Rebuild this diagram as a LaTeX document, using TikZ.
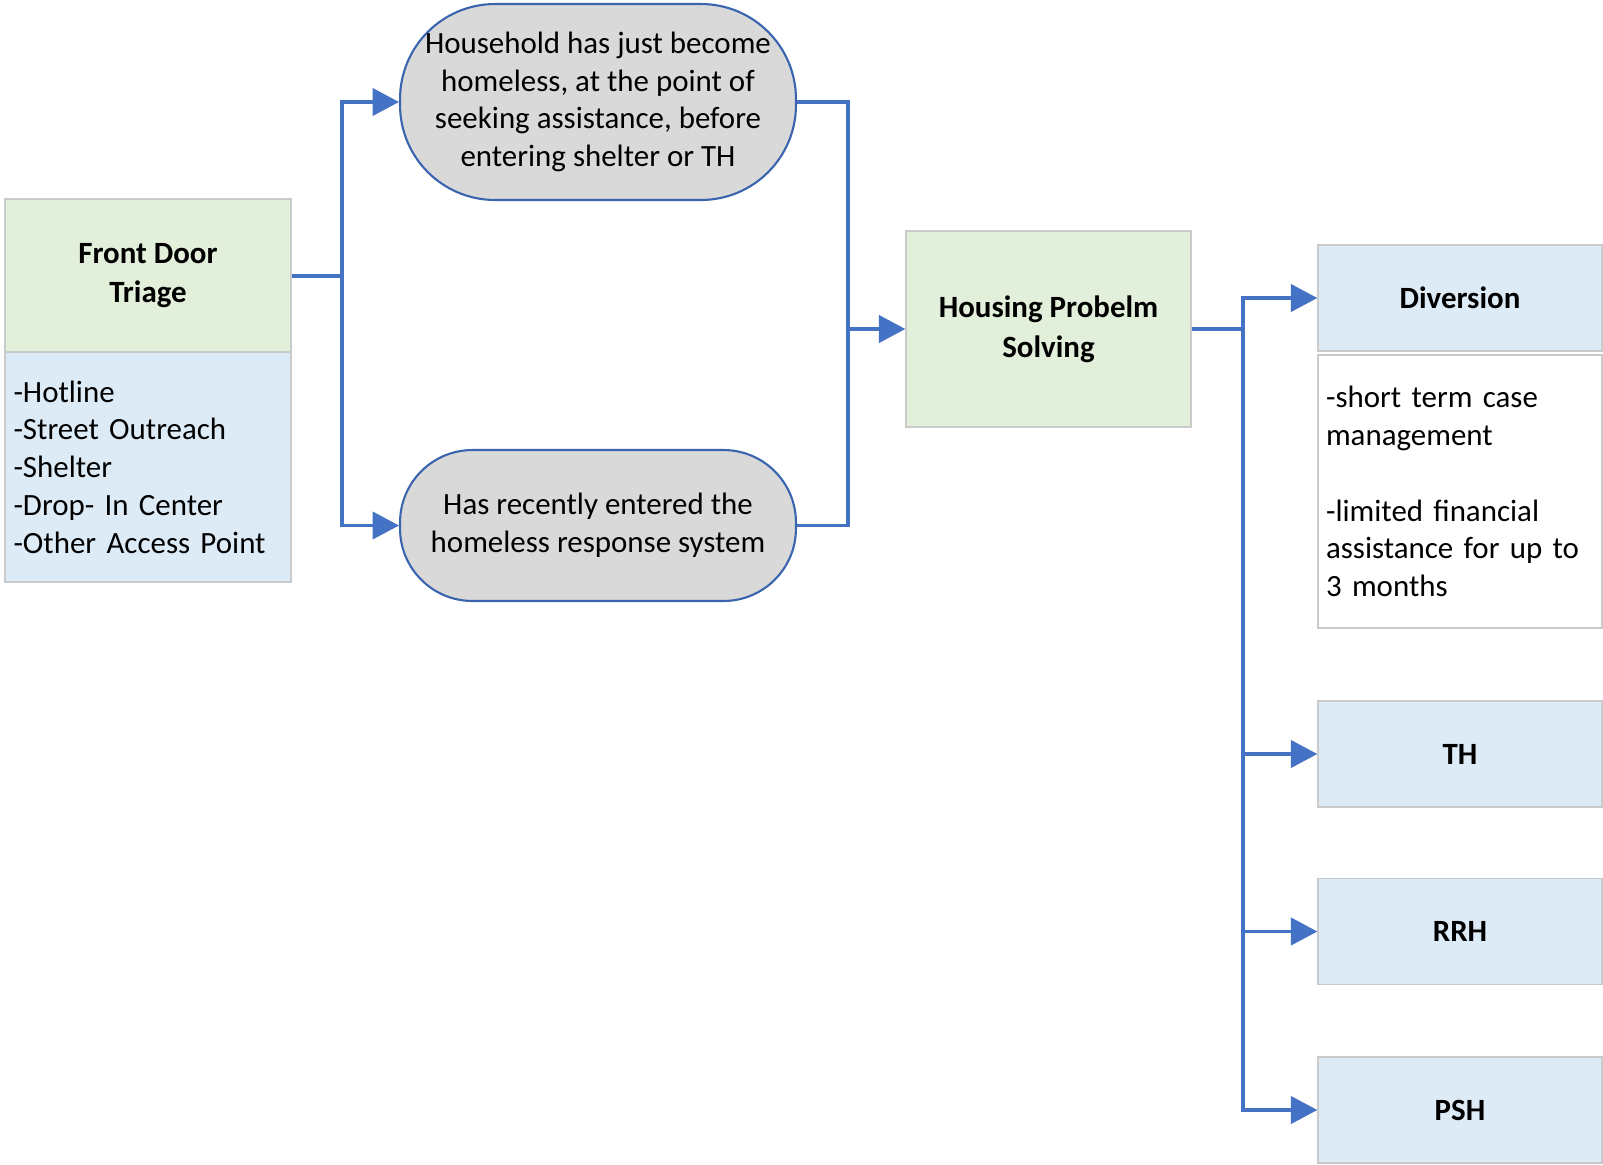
\documentclass[tikz,border=0pt]{standalone}
\usepackage{fontspec}
\setmainfont{Carlito}
\usepackage{xcolor}
\usepackage{tikz}
\usetikzlibrary{arrows.meta}
\definecolor{linkblue}{HTML}{4472C4}
\definecolor{rimblue}{HTML}{3A64AE}
\definecolor{boxgray}{HTML}{CACACA}
\definecolor{headgreen}{HTML}{E2EFDA}
\definecolor{headblue}{HTML}{DDEBF7}
\definecolor{pillgray}{HTML}{D9D9D9}

\begin{document}
\begin{tikzpicture}[x=0.02cm,y=-0.02cm,font=\fontsize{17.6}{21.5}\selectfont,
    box/.style={draw=boxgray,line width=0.8pt,inner sep=0pt},
    headbox/.style={box,align=center,font=\fontsize{17.6}{22.5}\selectfont\bfseries},
    listbox/.style={box,align=left,inner xsep=0.17cm,text width=5.38cm},
    pill/.style={draw=rimblue,fill=pillgray,line width=1.2pt,align=center,minimum width=7.92cm,inner sep=0pt},
    link/.style={draw=linkblue,line width=1.8pt},
    flow/.style={link,-{Triangle[length=15pt,width=15.5pt]}}]
\useasboundingbox (0,0) rectangle (1603,1164);

\node[headbox,fill=headgreen,minimum width=5.72cm,minimum height=3.06cm] (fdhead) at (148,275.5) {Front Door\\Triage};
\node[listbox,fill=headblue,minimum height=4.6cm] (fdlist) at (148,467) {-Hotline\\-Street Outreach\\-Shelter\\-Drop- In Center\\-Other Access Point};

\node[pill,minimum height=3.92cm,rounded corners=1.9cm] (hh) at (598,102) {Household has just become\\homeless, at the point of\\seeking assistance, before\\entering shelter or TH};
\node[pill,minimum height=3.02cm,rounded corners=1.45cm] (hr) at (598,525.5) {Has recently entered the\\homeless response system};

\node[headbox,fill=headgreen,minimum width=5.7cm,minimum height=3.92cm] (hps) at (1048.5,329) {Housing Probelm\\Solving};

\node[headbox,fill=headblue,minimum width=5.68cm,minimum height=2.12cm] (divhead) at (1460,298) {Diversion};
\node[listbox,fill=white,inner xsep=0.16cm,text width=5.36cm,minimum height=5.46cm] (divnote) at (1460,491.5) {-short term case\\management\\[21.5pt]-limited financial\\assistance for up to\\3 months};
\node[headbox,fill=headblue,minimum width=5.68cm,minimum height=2.12cm] (th) at (1460,754) {TH};
\node[headbox,fill=headblue,minimum width=5.68cm,minimum height=2.12cm] (rrh) at (1460,931.5) {RRH};
\node[headbox,fill=headblue,minimum width=5.68cm,minimum height=2.12cm] (psh) at (1460,1110) {PSH};

\coordinate (split1) at (342,276);
\coordinate (join1) at (848,329);
\coordinate (split2) at (1243,329);

\draw[link] (fdhead.east |- split1) -- (split1);
\draw[flow] (split1) |- (hh.west);
\draw[flow] (split1) |- (hr.west);
\draw[link] (hh.east) -| (join1);
\draw[link] (hr.east) -| (join1);
\draw[flow] (join1) -- (hps.west);
\draw[link] (hps.east) -- (split2);
\draw[flow] (split2) |- (divhead.west);
\draw[flow] (split2) |- (th.west);
\draw[flow] (split2) |- (rrh.west);
\draw[flow] (split2) |- (psh.west);
\end{tikzpicture}
\end{document}
